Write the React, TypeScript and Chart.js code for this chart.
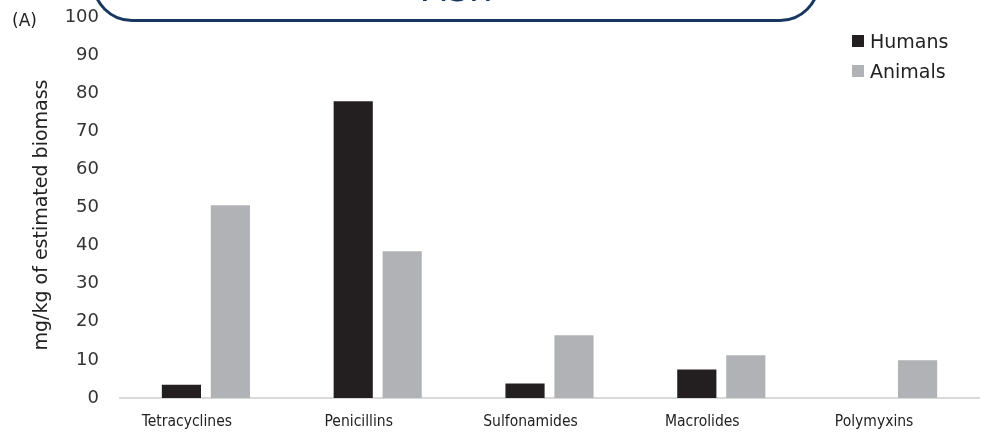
import React, { useEffect, useRef } from "react";
import { Chart, registerables } from "chart.js";

Chart.register(...registerables);

const categories = ["Tetracyclines", "Penicillins", "Sulfonamides", "Macrolides", "Polymyxins"];
const humans = [3.5, 77.9, 3.8, 7.5, 0];
const animals = [50.6, 38.5, 16.5, 11.2, 9.9];
const seriesLabels = ["Humans", "Animals"];
const seriesColors = ["#231f20", "#b1b2b5"];
const yTitle = "mg/kg of estimated biomass";
const bannerText = "Fish";
const panelLabel = "(A)";

const FONT = "'DejaVu Sans', Verdana, sans-serif";
const COND = "'DejaVu Sans Condensed', 'DejaVu Sans', sans-serif";

export default function App() {
  const ref = useRef<HTMLCanvasElement | null>(null);

  useEffect(() => {
    if (!ref.current) return;
    const chart = new Chart(ref.current, {
      type: "bar",
      data: {
        labels: categories,
        datasets: [
          { label: seriesLabels[0], data: humans, backgroundColor: seriesColors[0] },
          { label: seriesLabels[1], data: animals, backgroundColor: seriesColors[1] },
        ],
      },
      options: {
        animation: false,
        responsive: false,
        maintainAspectRatio: false,
        datasets: { bar: { categoryPercentage: 0.57, barPercentage: 0.8 } },
        layout: { padding: { left: 0, right: 20, top: 17, bottom: 0 } },
        plugins: { legend: { display: false }, tooltip: { enabled: false } },
        scales: {
          x: {
            grid: { display: false, drawTicks: false },
            border: { display: true, color: "#d9d9d9", width: 2 },
            ticks: { color: "#222", font: { family: COND, size: 15.5 }, padding: 15, labelOffset: -19 },
            afterFit: (s: any) => { s.height = 42; },
          },
          y: {
            min: 0,
            max: 100,
            grid: { display: false, drawTicks: false },
            border: { display: false },
            ticks: { stepSize: 10, color: "#333", font: { family: FONT, size: 18 }, padding: 21 },
            title: { display: false },
            afterFit: (s: any) => {
              s.width = 120;
              s.paddingTop = 0;
              s.paddingBottom = 0;
            },
          },
        },
      },
    });
    return () => chart.destroy();
  }, []);

  return (
    <div style={{ position: "fixed", left: 0, top: 0, width: 999, height: 440, overflow: "hidden", background: "#fff" }}>
      <canvas ref={ref} width={999} height={440} style={{ position: "absolute", left: 0, top: 0 }} />
      <div
        style={{
          position: "absolute",
          left: 92,
          top: -60,
          width: 728,
          height: 81.5,
          boxSizing: "border-box",
          border: "3px solid #17375e",
          borderRadius: 40,
        }}
      />
      <div
        style={{
          position: "absolute",
          left: 92,
          width: 728,
          top: -31,
          textAlign: "center",
          fontFamily: FONT,
          fontSize: 38,
          lineHeight: 1,
          color: "#17375e",
        }}
      >
        {bannerText}
      </div>
      <div
        style={{
          position: "absolute",
          left: 40 - 200,
          top: 215 - 12,
          width: 400,
          height: 24,
          lineHeight: "24px",
          textAlign: "center",
          transform: "rotate(-90deg)",
          fontFamily: FONT,
          fontSize: 19,
          color: "#222",
          whiteSpace: "nowrap",
        }}
      >
        {yTitle}
      </div>
      <div style={{ position: "absolute", left: 12, top: 10, fontFamily: FONT, fontSize: 17, lineHeight: "20px", color: "#222" }}>
        {panelLabel}
      </div>
      {seriesLabels.map((l, i) => (
        <div
          key={l}
          style={{
            position: "absolute",
            left: 852,
            top: 30 + i * 30,
            height: 22,
            display: "flex",
            alignItems: "center",
            fontFamily: FONT,
            fontSize: 19,
            color: "#222",
          }}
        >
          <span style={{ display: "inline-block", width: 12, height: 12, background: seriesColors[i], marginRight: 6 }} />
          {l}
        </div>
      ))}
    </div>
  );
}
